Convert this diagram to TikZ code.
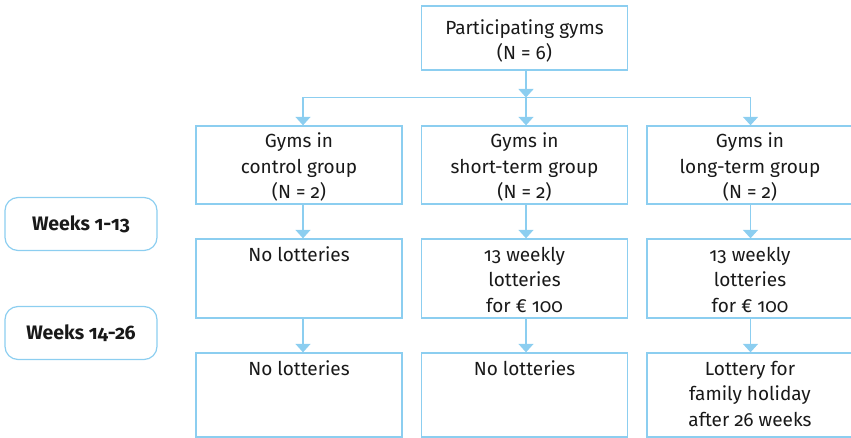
\documentclass[tikz,border=0pt]{standalone}
\usepackage{fontspec}
\setmainfont{Fira Sans}[Numbers=OldStyle]
\usetikzlibrary{arrows.meta}
\definecolor{frame}{RGB}{140,206,240}
\definecolor{ink}{RGB}{25,25,25}
\tikzset{
  box/.style={draw=frame, line width=1.3pt, rectangle, inner sep=0pt,
    text=ink, font=\fontsize{19}{25.5}\selectfont},
  weekbox/.style={draw=frame, line width=1.2pt, rounded corners=13pt,
    minimum width=152pt, minimum height=53pt, text=ink,
    font=\fontsize{19.5}{24}\selectfont\bfseries},
  link/.style={draw=frame, line width=1.3pt},
  flow/.style={link, -{Triangle[width=15pt,length=8.5pt]}},
}
% box body of fixed size, text centred vertically (#2 = extra top space)
\newcommand{\midtext}[3]{\parbox[c][#1][c]{206pt}{\centering\vspace{#2}#3}}
% box body of fixed size, text from the top
\newcommand{\toptext}[2]{\parbox[c][#1][t]{206pt}{\centering\vspace{8pt}#2}}
\begin{document}
\begin{tikzpicture}[x=1pt,y=-1pt]
\clip (0,0) rectangle (851,438);
\useasboundingbox (0,0) rectangle (851,438);

% root
\node[box] (root) at (524.5,38)
  {\midtext{64pt}{6pt}{Participating gyms\\(N = 6)}};

% groups
\node[box] (g1) at (299,165)
  {\midtext{78pt}{4pt}{Gyms in\\control group\\(N = 2)}};
\node[box] (g2) at (524.5,165)
  {\midtext{78pt}{4pt}{Gyms in\\short-term group\\(N = 2)}};
\node[box] (g3) at (750,165)
  {\midtext{78pt}{4pt}{Gyms in\\long-term group\\(N = 2)}};

% weeks 1-13
\node[box] (a1) at (299,278.5) {\toptext{79pt}{No lotteries}};
\node[box] (a2) at (524.5,278.5) {\toptext{79pt}{13 weekly\\lotteries\\for € 100}};
\node[box] (a3) at (750,278.5) {\toptext{79pt}{13 weekly\\lotteries\\for € 100}};

% weeks 14-26
\node[box] (b1) at (299,395) {\toptext{84pt}{No lotteries}};
\node[box] (b2) at (524.5,395) {\toptext{84pt}{No lotteries}};
\node[box] (b3) at (750,395) {\toptext{84pt}{Lottery for\\family holiday\\after 26 weeks}};

% period labels
\node[weekbox] (w1) at (81,224) {Weeks 1-13};
\node[weekbox] (w2) at (81,333) {Weeks 14-26};

% connectors (drawn a little right of the box centres)
\coordinate (split) at (526,97.5);
\coordinate (sl) at (303,97.5);
\coordinate (sr) at (750.5,97.5);
\draw[flow] (split |- root.south) -- (split);
\draw[link] (sl) -- (sr);
\draw[flow] (sl) -- (sl |- g1.north);
\draw[flow] (split) -- (split |- g2.north);
\draw[flow] (sr) -- (sr |- g3.north);
\draw[flow] (sl |- g1.south) -- (sl |- a1.north);
\draw[flow] (split |- g2.south) -- (split |- a2.north);
\draw[flow] (sr |- g3.south) -- (sr |- a3.north);
\draw[flow] (sl |- a1.south) -- (sl |- b1.north);
\draw[flow] (split |- a2.south) -- (split |- b2.north);
\draw[flow] (sr |- a3.south) -- (sr |- b3.north);
\end{tikzpicture}
\end{document}
